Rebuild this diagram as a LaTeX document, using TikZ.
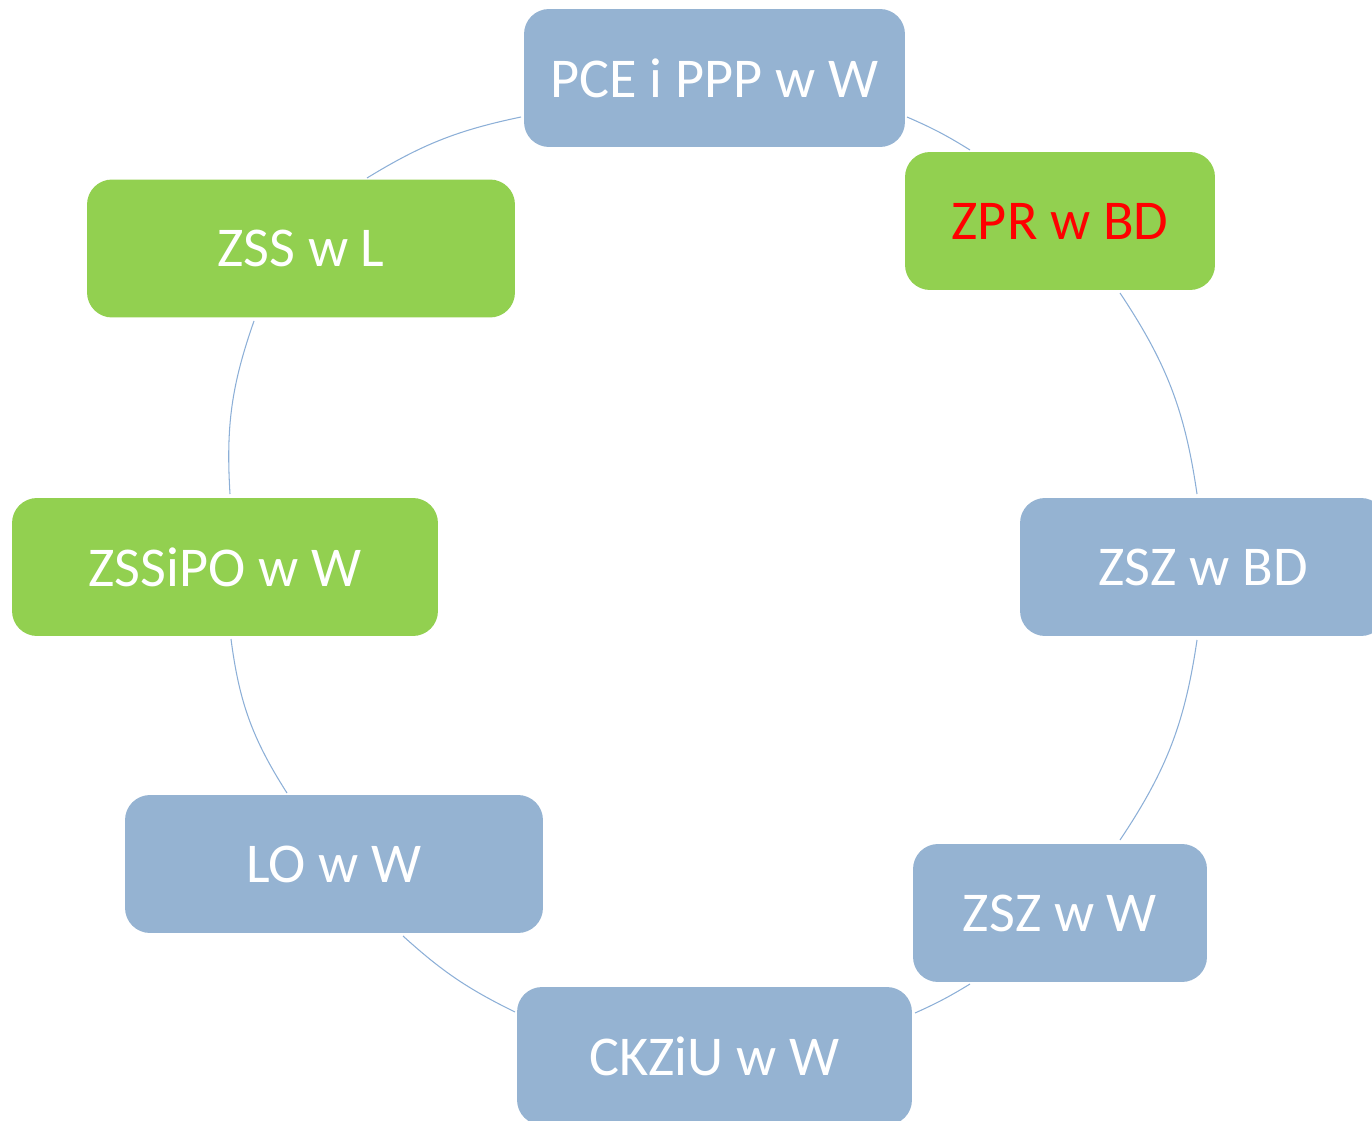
\documentclass[tikz,border=0pt]{standalone}
\usepackage{fontspec}
\setmainfont{Carlito}
\begin{document}
\begin{tikzpicture}[x=0.02cm,y=0.02cm,
  boxbase/.style={rounded corners=0.5cm, inner sep=0pt, minimum height=2.76cm,
     font=\fontsize{32}{38}\selectfont, text=white},
  bluebox/.style={boxbase, fill=boxblue},
  greenbox/.style={boxbase, fill=boxgreen},
  arcline/.style={draw=arcblue, line width=0.6pt}]
\definecolor{boxblue}{RGB}{149,179,210}
\definecolor{boxgreen}{RGB}{146,208,80}
\definecolor{arcblue}{RGB}{140,175,215}
\useasboundingbox (0,0) rectangle (1372,-1121);
\node[bluebox, minimum width=7.62cm] (pce) at (714.5,-78) {PCE i PPP w W};
\node[greenbox, minimum width=6.2cm, text=red] (zpr) at (1060,-221) {ZPR w BD};
\node[bluebox, minimum width=7.32cm] (zszbd) at (1203,-567) {ZSZ w BD};
\node[bluebox, minimum width=5.88cm] (zszw) at (1060,-913) {ZSZ w W};
\node[bluebox, minimum width=7.9cm] (ckz) at (714.5,-1056) {CKZiU w W};
\node[bluebox, minimum width=8.36cm] (lo) at (334,-864) {LO w W};
\node[greenbox, minimum width=8.52cm] (zssipo) at (225,-567) {ZSSiPO w W};
\node[greenbox, minimum width=8.56cm] (zss) at (301,-248.5) {ZSS w L};
\coordinate (a1s) at (907,-117);  \coordinate (a1e) at (970,-150);
\coordinate (a2s) at (1120,-293); \coordinate (a2e) at (1197,-494);
\coordinate (a3s) at (1197,-640); \coordinate (a3e) at (1120,-840);
\coordinate (a4s) at (970,-984);  \coordinate (a4e) at (915,-1013);
\coordinate (a5s) at (515,-1012); \coordinate (a5e) at (403,-936);
\coordinate (a6s) at (287,-793);  \coordinate (a6e) at (231,-639);
\coordinate (a7s) at (230,-494);  \coordinate (a7e) at (254,-321);
\coordinate (a8s) at (367,-178);  \coordinate (a8e) at (521,-117);
\draw[arcline] (a1s) to[bend left=4.2] (a1e);
\draw[arcline] (a2s) to[bend left=12.7] (a2e);
\draw[arcline] (a3s) to[bend left=12.7] (a3e);
\draw[arcline] (a4s) to[bend left=3.6] (a4e);
\draw[arcline] (a5s) to[bend left=8] (a5e);
\draw[arcline] (a6s) to[bend left=12.6] (a6e);
\draw[arcline] (a7s) to[bend left=11.4] (a7e);
\draw[arcline] (a8s) to[bend left=9.8] (a8e);
\end{tikzpicture}
\end{document}
